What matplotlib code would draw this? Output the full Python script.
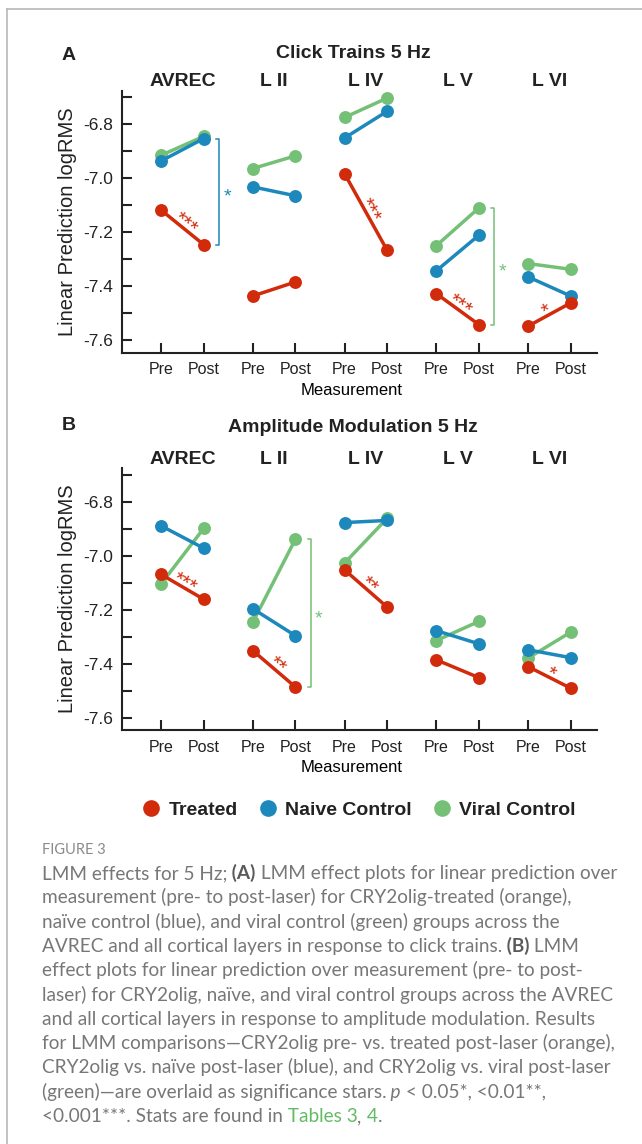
import numpy as np
import matplotlib
matplotlib.use("Agg")
import matplotlib.pyplot as plt
from matplotlib.lines import Line2D
from matplotlib.transforms import blended_transform_factory

plt.rcParams.update({
    "font.family": ["Liberation Sans", "DejaVu Sans"],
    "axes.unicode_minus": False,
    "text.color": "#222222",
    "axes.edgecolor": "#222222",
    "axes.linewidth": 1.5,
})

W, H = 642, 1144          # output size in px (dpi 100)

REGIONS = ["AVREC", "L II", "L IV", "L V", "L VI"]
PHASES = ["Pre", "Post"]

# (pre, post) linear prediction logRMS
CT_TREATED = [(-7.118, -7.246), (-7.436, -7.384), (-6.983, -7.267), (-7.427, -7.542), (-7.548, -7.462)]
CT_NAIVE = [(-6.936, -6.853), (-7.032, -7.065), (-6.851, -6.752), (-7.343, -7.211), (-7.365, -7.436)]
CT_VIRAL = [(-6.915, -6.845), (-6.964, -6.917), (-6.775, -6.703), (-7.250, -7.110), (-7.316, -7.337)]

AM_TREATED = [(-7.070, -7.162), (-7.352, -7.487), (-7.053, -7.191), (-7.386, -7.452), (-7.411, -7.491)]
AM_NAIVE = [(-6.890, -6.973), (-7.197, -7.297), (-6.878, -6.870), (-7.278, -7.327), (-7.349, -7.378)]
AM_VIRAL = [(-7.105, -6.899), (-7.247, -6.939), (-7.028, -6.862), (-7.315, -7.244), (-7.380, -7.284)]

# pre vs post significance on the treated line
CT_STARS = ["***", "", "***", "***", "*"]
AM_STARS = ["***", "**", "**", "", "*"]
# (region index, compared group, stars) : treated post vs control post
CT_BRACKETS = [(0, "naive", "*"), (3, "viral", "*")]
AM_BRACKETS = [(1, "viral", "*")]

COL = {"treated": "#D12B0C", "naive": "#1C88BC", "viral": "#74C076"}
LABEL = {"treated": "Treated", "naive": "Naive Control", "viral": "Viral Control"}
OFF = 0.465               # Pre -> Post spacing inside one region

CAPTION = [
    [("LMM effects for 5 Hz;", "n"), (" (A)", "b"), (" LMM effect plots for linear prediction over", "n")],
    [("measurement (pre- to post-laser) for CRY2olig-treated (orange),", "n")],
    [("naïve control (blue), and viral control (green) groups across the", "n")],
    [("AVREC and all cortical layers in response to click trains.", "n"), (" (B)", "b"), (" LMM", "n")],
    [("effect plots for linear prediction over measurement (pre- to post-", "n")],
    [("laser) for CRY2olig, naïve, and viral control groups across the AVREC", "n")],
    [("and all cortical layers in response to amplitude modulation. Results", "n")],
    [("for LMM comparisons\u2014CRY2olig pre- vs. treated post-laser (orange),", "n")],
    [("CRY2olig vs. naïve post-laser (blue), and CRY2olig vs. viral post-laser", "n")],
    [("(green)\u2014are overlaid as significance stars.", "n"), (" p", "i"), (" < 0.05*, <0.01**,", "n")],
    [("<0.001***. Stats are found in", "n"), (" Tables 3", "g"), (",", "n"), (" 4", "g"), (".", "n")],
]


def fx(px):
    return px / W


def fy(py):
    return 1 - py / H


def draw_panel(ax, data, stars, brackets):
    pos = np.arange(len(REGIONS), dtype=float)
    for key in ("viral", "naive", "treated"):           # treated drawn on top
        for i, (pre, post) in enumerate(data[key]):
            ax.plot([pos[i], pos[i] + OFF], [pre, post], color=COL[key], lw=2.5,
                    marker="o", ms=9.3, mew=0, solid_capstyle="butt", zorder=3)

    ax.set_xlim(-0.43, 4.75)
    ax.set_ylim(-7.646, -6.677)
    xt = np.ravel([[p, p + OFF] for p in pos])
    ax.set_xticks(xt)
    ax.set_xticklabels(PHASES * len(REGIONS), fontsize=11.5)
    yt = np.array([-7.6, -7.4, -7.2, -7.0, -6.8])
    ax.set_yticks(yt)
    ax.set_yticklabels(["%.1f" % v for v in yt], fontsize=12.5)
    ax.set_yticks([-7.5, -7.3, -7.1, -6.9, -6.7], minor=True)
    ax.tick_params(which="both", direction="in", length=7, width=1.5, colors="#222222")
    ax.tick_params(axis="x", pad=7)
    ax.tick_params(axis="y", pad=6)
    for s in ("top", "right"):
        ax.spines[s].set_visible(False)
    ax.set_xlabel("Measurement", fontsize=12, labelpad=4, x=0.485)
    ax.text(-0.114, 0.5, "Linear Prediction logRMS", transform=ax.transAxes, rotation=90,
            ha="center", va="center", fontsize=14.5)

    tr = blended_transform_factory(ax.transData, ax.transAxes)
    for i, name in enumerate(REGIONS):
        ax.text(pos[i] + OFF / 2, 1.035, name, transform=tr, ha="center", va="center",
                fontsize=14, fontweight="bold")

    # stars along the treated line, rotated with it
    for i, st in enumerate(stars):
        if not st:
            continue
        pre, post = data["treated"][i]
        p0 = ax.transData.transform((pos[i], pre))
        p1 = ax.transData.transform((pos[i] + OFF, post))
        d = p1 - p0
        ang = np.arctan2(d[1], d[0])
        nrm = np.array([-np.sin(ang), np.cos(ang)]) * 3.0
        ax.annotate(st, ((pos[i] + pos[i] + OFF) / 2, (pre + post) / 2), xytext=nrm,
                    textcoords="offset points", rotation=np.degrees(ang),
                    rotation_mode="anchor", ha="center", va="center",
                    color=COL["treated"], fontsize=15, zorder=4)

    # brackets: treated post vs control post
    for i, key, st in brackets:
        top = data[key][i][1]
        bot = data["treated"][i][1]
        bx = pos[i] + OFF + 0.17
        ax.plot([bx - 0.035, bx, bx, bx - 0.035], [top, top, bot, bot],
                color=COL[key], lw=1.1, zorder=2)
        ax.annotate(st, (bx, (top + bot) / 2), xytext=(5.5, -4), textcoords="offset points",
                    ha="center", va="center", color=COL[key], fontsize=14)


fig = plt.figure(figsize=(W / 100, H / 100), dpi=100)

# page frame (top and left rule)
fig.add_artist(Line2D([fx(7), 1], [fy(9), fy(9)], transform=fig.transFigure, color="#b8b8b8", lw=1.2))
fig.add_artist(Line2D([fx(7), fx(7)], [0, fy(9)], transform=fig.transFigure, color="#b8b8b8", lw=1.2))

axA = fig.add_axes([fx(121.7), fy(352.7), fx(475), 261.7 / H])
draw_panel(axA, {"treated": CT_TREATED, "naive": CT_NAIVE, "viral": CT_VIRAL}, CT_STARS, CT_BRACKETS)
axB = fig.add_axes([fx(121.7), fy(730), fx(475), 261.7 / H])
draw_panel(axB, {"treated": AM_TREATED, "naive": AM_NAIVE, "viral": AM_VIRAL}, AM_STARS, AM_BRACKETS)

fig.text(fx(62), fy(55), "A", ha="left", va="center", fontsize=14, fontweight="bold")
fig.text(0.55, fy(53.3), "Click Trains 5 Hz", ha="center", va="center", fontsize=14, fontweight="bold")
fig.text(fx(62), fy(426), "B", ha="left", va="center", fontsize=14, fontweight="bold")
fig.text(0.55, fy(427), "Amplitude Modulation 5 Hz", ha="center", va="center", fontsize=14, fontweight="bold")

handles = [Line2D([], [], ls="none", marker="o", ms=12, mew=0, color=COL[k]) for k in ("treated", "naive", "viral")]
fig.legend(handles, [LABEL[k] for k in ("treated", "naive", "viral")], loc="center",
           bbox_to_anchor=(0.5584, fy(810)), ncol=3, frameon=False,
           prop={"weight": "bold", "size": 14}, handlelength=1.0, handletextpad=0.4,
           columnspacing=1.03, borderpad=0, borderaxespad=0)

# caption (rich text, placed segment by segment)
renderer = fig.canvas.get_renderer()
CAP_FONT = ["Lato", "DejaVu Sans"]
probe = fig.text(0, 0, CAPTION[7][0][0], fontsize=12, family=CAP_FONT)
cap_size = 12 * 573.0 / probe.get_window_extent(renderer).width
probe.remove()

fig.text(fx(41.7), fy(849 + 5), "FIGURE 3", fontsize=10.5, family=CAP_FONT, color="#8a8a8a",
         va="baseline", ha="left")
STYLE = {"n": dict(color="#777777"),
         "b": dict(color="#5a5a5a", fontweight="bold"),
         "i": dict(color="#777777", style="italic"),
         "g": dict(color="#62bb64")}
for k, segs in enumerate(CAPTION):
    x = 41.7
    yb = 873 + 24.3 * k + 6
    for txt, st in segs:
        t = fig.text(fx(x), fy(yb), txt, fontsize=cap_size, family=CAP_FONT, va="baseline",
                     ha="left", **STYLE[st])
        x += t.get_window_extent(renderer).width

fig.savefig("out.png", dpi=100)
